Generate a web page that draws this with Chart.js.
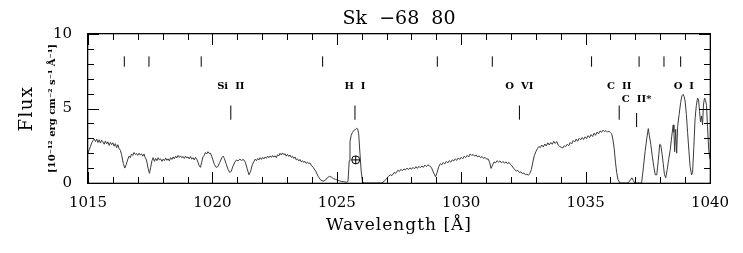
<!DOCTYPE html>
<html>
<head>
<meta charset="utf-8">
<script src="https://cdn.jsdelivr.net/npm/chart.js@4/dist/chart.umd.min.js"></script>
<style>
  html, body { margin: 0; padding: 0; background: #fff; }
  canvas { display: block; }
</style>
</head>
<body>
<canvas id="spec" width="743" height="253"></canvas>
<script>
// spectrum (wavelength in Angstrom, flux in 1e-12 erg/cm2/s/A)
const wave = [
  1015.00, 1015.05, 1015.10, 1015.15, 1015.20, 1015.25, 1015.30, 1015.35, 1015.40, 1015.45,
  1015.50, 1015.55, 1015.60, 1015.65, 1015.70, 1015.75, 1015.80, 1015.85, 1015.90, 1015.95,
  1016.00, 1016.05, 1016.10, 1016.15, 1016.20, 1016.25, 1016.30, 1016.35, 1016.42, 1016.48,
  1016.54, 1016.60, 1016.65, 1016.70, 1016.75, 1016.80, 1016.85, 1016.90, 1016.95, 1017.00,
  1017.05, 1017.10, 1017.15, 1017.20, 1017.25, 1017.30, 1017.35, 1017.42, 1017.47, 1017.52,
  1017.57, 1017.62, 1017.67, 1017.72, 1017.77, 1017.82, 1017.87, 1017.92, 1017.97, 1018.02,
  1018.07, 1018.12, 1018.17, 1018.22, 1018.27, 1018.32, 1018.37, 1018.42, 1018.47, 1018.52,
  1018.57, 1018.62, 1018.67, 1018.72, 1018.77, 1018.82, 1018.87, 1018.92, 1018.97, 1019.02,
  1019.07, 1019.12, 1019.17, 1019.22, 1019.27, 1019.32, 1019.37, 1019.42, 1019.47, 1019.52,
  1019.57, 1019.62, 1019.67, 1019.72, 1019.77, 1019.82, 1019.87, 1019.92, 1019.97, 1020.02,
  1020.08, 1020.15, 1020.22, 1020.30, 1020.38, 1020.43, 1020.48, 1020.55, 1020.62, 1020.70,
  1020.76, 1020.82, 1020.90, 1020.97, 1021.03, 1021.10, 1021.17, 1021.25, 1021.32, 1021.40,
  1021.47, 1021.53, 1021.60, 1021.67, 1021.72, 1021.77, 1021.82, 1021.87, 1021.92, 1021.97,
  1022.02, 1022.07, 1022.12, 1022.17, 1022.22, 1022.27, 1022.32, 1022.37, 1022.42, 1022.47,
  1022.52, 1022.57, 1022.62, 1022.67, 1022.72, 1022.77, 1022.82, 1022.87, 1022.92, 1022.97,
  1023.02, 1023.07, 1023.12, 1023.17, 1023.22, 1023.27, 1023.32, 1023.37, 1023.42, 1023.47,
  1023.52, 1023.57, 1023.62, 1023.67, 1023.72, 1023.77, 1023.82, 1023.87, 1023.92, 1023.97,
  1024.05, 1024.15, 1024.25, 1024.35, 1024.45, 1024.55, 1024.62, 1024.70, 1024.78, 1024.86,
  1024.94, 1025.02, 1025.10, 1025.20, 1025.30, 1025.40, 1025.45, 1025.50, 1025.53, 1025.58,
  1025.63, 1025.70, 1025.76, 1025.80, 1025.84, 1025.88, 1025.93, 1025.98, 1026.03, 1026.10,
  1026.80, 1026.90, 1027.00, 1027.08, 1027.15, 1027.22, 1027.30, 1027.37, 1027.45, 1027.52,
  1027.58, 1027.64, 1027.70, 1027.76, 1027.82, 1027.88, 1027.94, 1028.00, 1028.06, 1028.12,
  1028.18, 1028.24, 1028.30, 1028.36, 1028.42, 1028.48, 1028.54, 1028.60, 1028.66, 1028.72,
  1028.80, 1028.90, 1028.97, 1029.03, 1029.10, 1029.16, 1029.22, 1029.28, 1029.34, 1029.40,
  1029.46, 1029.52, 1029.58, 1029.64, 1029.70, 1029.76, 1029.82, 1029.88, 1029.94, 1030.00,
  1030.06, 1030.12, 1030.18, 1030.24, 1030.30, 1030.36, 1030.42, 1030.48, 1030.54, 1030.60,
  1030.66, 1030.72, 1030.78, 1030.84, 1030.90, 1030.96, 1031.02, 1031.08, 1031.14, 1031.20,
  1031.26, 1031.32, 1031.38, 1031.44, 1031.50, 1031.56, 1031.62, 1031.68, 1031.74, 1031.80,
  1031.86, 1031.92, 1031.98, 1032.04, 1032.10, 1032.16, 1032.22, 1032.28, 1032.34, 1032.40,
  1032.46, 1032.52, 1032.58, 1032.64, 1032.70, 1032.76, 1032.82, 1032.88, 1032.94, 1033.00,
  1033.06, 1033.12, 1033.18, 1033.24, 1033.30, 1033.36, 1033.42, 1033.48, 1033.54, 1033.60,
  1033.66, 1033.72, 1033.78, 1033.84, 1033.90, 1033.96, 1034.02, 1034.08, 1034.14, 1034.20,
  1034.26, 1034.32, 1034.38, 1034.44, 1034.50, 1034.56, 1034.62, 1034.68, 1034.74, 1034.80,
  1034.86, 1034.92, 1034.98, 1035.04, 1035.10, 1035.16, 1035.22, 1035.28, 1035.34, 1035.40,
  1035.46, 1035.52, 1035.58, 1035.64, 1035.70, 1035.76, 1035.82, 1035.88, 1035.94, 1036.00,
  1036.05, 1036.10, 1036.15, 1036.20, 1036.25, 1036.30, 1036.38, 1036.70, 1036.80, 1036.86,
  1036.92, 1036.98, 1037.25, 1037.32, 1037.39, 1037.46, 1037.52, 1037.56, 1037.62, 1037.68,
  1037.74, 1037.80, 1037.86, 1037.92, 1037.98, 1038.02, 1038.07, 1038.12, 1038.17, 1038.22,
  1038.28, 1038.34, 1038.40, 1038.46, 1038.52, 1038.55, 1038.58, 1038.62, 1038.66, 1038.70,
  1038.76, 1038.82, 1038.87, 1038.92, 1038.96, 1039.00, 1039.05, 1039.10, 1039.15, 1039.20,
  1039.26, 1039.30, 1039.35, 1039.40, 1039.45, 1039.50, 1039.54, 1039.58, 1039.62, 1039.66,
  1039.70, 1039.74, 1039.78, 1039.82, 1039.86, 1039.90, 1039.95, 1040.00
]
const flux = [
  2.00, 2.25, 2.45, 2.70, 2.85, 2.95, 2.78, 2.94, 2.72, 2.90,
  2.68, 2.87, 2.76, 2.60, 2.82, 2.63, 2.76, 2.52, 2.72, 2.57,
  2.70, 2.47, 2.64, 2.37, 2.57, 2.30, 2.20, 1.90, 1.30, 1.00,
  1.25, 1.60, 1.80, 1.70, 1.95, 1.85, 2.05, 1.92, 1.98, 1.85,
  2.00, 1.88, 1.95, 1.80, 1.95, 1.70, 1.55, 0.95, 0.65, 1.05,
  1.50, 1.70, 1.45, 1.65, 1.50, 1.70, 1.55, 1.62, 1.45, 1.60,
  1.50, 1.68, 1.52, 1.62, 1.48, 1.70, 1.58, 1.75, 1.62, 1.80,
  1.68, 1.85, 1.72, 1.82, 1.70, 1.78, 1.65, 1.80, 1.68, 1.75,
  1.62, 1.78, 1.60, 1.70, 1.55, 1.72, 1.60, 1.40, 1.15, 1.05,
  1.40, 1.75, 1.85, 2.05, 1.95, 2.10, 1.98, 2.00, 1.80, 1.55,
  1.25, 1.05, 1.10, 1.40, 1.70, 1.80, 1.65, 1.30, 0.95, 0.70,
  0.80, 1.10, 1.40, 1.55, 1.48, 1.60, 1.52, 1.58, 1.40, 0.95,
  0.55, 0.75, 1.20, 1.45, 1.60, 1.50, 1.65, 1.55, 1.70, 1.58,
  1.72, 1.62, 1.75, 1.66, 1.80, 1.70, 1.82, 1.72, 1.85, 1.75,
  1.82, 1.70, 1.90, 1.82, 2.00, 1.88, 2.02, 1.90, 1.96, 1.80,
  1.92, 1.78, 1.88, 1.72, 1.80, 1.65, 1.75, 1.55, 1.62, 1.48,
  1.58, 1.42, 1.50, 1.38, 1.45, 1.32, 1.40, 1.30, 1.35, 1.20,
  1.05, 0.80, 0.45, 0.20, 0.12, 0.20, 0.35, 0.45, 0.40, 0.30,
  0.25, 0.20, 0.15, 0.10, 0.08, 0.05, 0.10, 1.50, 2.80, 3.20,
  3.40, 3.55, 3.60, 3.68, 3.62, 3.30, 2.00, 0.80, 0.10, 0.00,
  0.00, 0.10, 0.30, 0.45, 0.55, 0.50, 0.70, 0.65, 0.85, 0.78,
  0.92, 0.82, 0.95, 0.88, 1.00, 0.90, 1.02, 0.92, 1.05, 0.95,
  1.10, 0.98, 1.12, 1.02, 1.15, 1.05, 1.20, 1.10, 1.22, 1.15,
  1.05, 0.65, 0.42, 0.70, 1.10, 1.30, 1.22, 1.38, 1.28, 1.45,
  1.35, 1.50, 1.40, 1.55, 1.48, 1.62, 1.52, 1.68, 1.58, 1.72,
  1.62, 1.80, 1.70, 1.85, 1.75, 1.95, 1.85, 1.92, 1.80, 1.88,
  1.75, 1.82, 1.70, 1.78, 1.65, 1.72, 1.60, 1.62, 1.40, 0.98,
  1.20, 1.42, 1.35, 1.50, 1.40, 1.48, 1.35, 1.45, 1.32, 1.42,
  1.30, 1.38, 1.25, 1.15, 1.00, 0.88, 0.80, 0.85, 0.70, 0.75,
  0.62, 0.68, 0.55, 0.60, 0.52, 0.65, 0.90, 1.40, 1.85, 2.10,
  2.30, 2.45, 2.38, 2.55, 2.42, 2.62, 2.48, 2.70, 2.55, 2.72,
  2.60, 2.80, 2.65, 2.78, 2.55, 2.45, 2.40, 2.35, 2.50, 2.45,
  2.60, 2.50, 2.72, 2.62, 2.85, 2.75, 2.95, 2.80, 3.00, 2.90,
  3.05, 2.92, 3.10, 2.98, 3.18, 3.05, 3.25, 3.12, 3.35, 3.20,
  3.42, 3.30, 3.50, 3.40, 3.55, 3.45, 3.52, 3.42, 3.48, 3.38,
  3.30, 2.90, 2.30, 1.40, 0.70, 0.25, 0.00, 0.00, 0.20, 0.35,
  0.15, 0.00, 0.00, 1.00, 2.10, 3.00, 3.65, 3.20, 2.60, 1.80,
  1.10, 0.55, 0.55, 1.50, 2.60, 2.55, 2.00, 1.30, 0.55, 0.35,
  0.90, 1.60, 2.20, 3.10, 3.90, 3.40, 2.10, 3.60, 2.00, 3.80,
  4.60, 5.40, 5.85, 5.95, 5.80, 5.50, 4.60, 3.40, 2.20, 1.10,
  0.55, 0.70, 2.40, 4.30, 5.20, 5.70, 5.60, 4.80, 4.10, 4.50,
  3.90, 5.30, 5.70, 5.55, 5.20, 3.80, 2.20, 1.60
]

// line identification marks
const upperMarks = [1016.46, 1017.45, 1019.55, 1024.43, 1029.04, 1031.25, 1035.24, 1037.15, 1038.15, 1038.82]
const lineNames = ['Si  II', 'H  I', 'O  VI', 'C  II', 'C  II*', 'O  I']
const lineWaves = [1020.74, 1025.73, 1032.34, 1036.35, 1037.05, 1038.95]
const lineRows = [0, 0, 0, 0, 1, 0]
const earthWave = [1025.76]
const earthFlux = [1.55]

const xTicks = [1015, 1020, 1025, 1030, 1035, 1040]
const yTicks = [0, 5, 10]

const SERIF = '"DejaVu Serif", serif'

function segments(xs, lo, hi) {
  const pts = []
  xs.forEach(x => { pts.push({ x, y: lo }, { x, y: hi }, { x: null, y: null }) })
  return pts
}

const lowerPts = []
lineWaves.forEach((w, i) => {
  if (lineNames[i] === 'O  I') return
  const lo = lineRows[i] ? 3.75 : 4.25
  const hi = lineRows[i] ? 4.7 : 5.2
  lowerPts.push({ x: w, y: lo }, { x: w, y: hi }, { x: null, y: null })
})

const frame = {
  id: 'frame',
  afterDraw(chart) {
    const ctx = chart.ctx
    const a = chart.chartArea
    const x = chart.scales.x
    const y = chart.scales.y
    ctx.save()
    ctx.fillStyle = '#000'
    // box
    ctx.fillRect(a.left - 1, a.top - 1, a.right - a.left + 2, 1.3)
    ctx.fillRect(a.left - 1, a.bottom - 0.3, a.right - a.left + 2, 1.3)
    ctx.fillRect(a.left - 1, a.top - 1, 1.3, a.bottom - a.top + 2)
    ctx.fillRect(a.right - 0.3, a.top - 1, 1.3, a.bottom - a.top + 2)
    // inward ticks, every 1 A and every 1 flux unit
    for (let v = 1015; v <= 1040; v++) {
      const px = Math.round(x.getPixelForValue(v))
      const len = v % 5 === 0 ? 11 : 6
      ctx.fillRect(px, a.bottom - len, 1, len)
      ctx.fillRect(px, a.top, 1, len)
    }
    for (let v = 0; v <= 10; v++) {
      const py = Math.round(y.getPixelForValue(v))
      const len = v % 5 === 0 ? 11 : 6
      ctx.fillRect(a.left, py, len, 1)
      ctx.fillRect(a.right - len, py, len, 1)
    }

    ctx.textAlign = 'center'
    ctx.textBaseline = 'middle'
    ctx.font = '19px ' + SERIF
    ctx.fillText('Sk  \u221268  80', (a.left + a.right) / 2, 19)

    ctx.font = '17px ' + SERIF
    ctx.letterSpacing = '1px'
    ctx.fillText('Wavelength [\u00c5]', (a.left + a.right) / 2, 226)

    ctx.letterSpacing = '0px'
    ctx.font = 'bold 10px ' + SERIF
    lineNames.forEach((n, i) => {
      const px = x.getPixelForValue(lineWaves[i])
      const py = lineRows[i] ? 99 : 86
      ctx.fillText(n, px, py)
    })

    ctx.save()
    ctx.translate(27, (a.top + a.bottom) / 2)
    ctx.rotate(-Math.PI / 2)
    ctx.font = '18px ' + SERIF
    ctx.letterSpacing = '1.5px'
    ctx.fillText('Flux', 0, 0)
    ctx.restore()

    ctx.save()
    ctx.translate(52, (a.top + a.bottom) / 2)
    ctx.rotate(-Math.PI / 2)
    ctx.font = 'bold 10px ' + SERIF
    ctx.fillText('[10\u207b\u00b9\u00b2 erg cm\u207b\u00b2 s\u207b\u00b9 \u00c5\u207b\u00b9]', 0, 0)
    ctx.restore()
    ctx.restore()
  }
}

new Chart(document.getElementById('spec'), {
  type: 'line',
  data: {
    datasets: [
      {
        label: 'spectrum',
        data: wave.map((w, i) => ({ x: w, y: flux[i] })),
        borderColor: '#3a3a3a',
        borderWidth: 1,
        pointRadius: 0,
        tension: 0,
      },
      {
        label: 'upper marks',
        data: segments(upperMarks, 7.8, 8.5),
        borderColor: '#000',
        borderWidth: 1,
        pointRadius: 0,
        spanGaps: false,
      },
      {
        label: 'line marks',
        data: lowerPts,
        borderColor: '#000',
        borderWidth: 1,
        pointRadius: 0,
        spanGaps: false,
      },
      {
        label: 'earth',
        data: earthWave.map((w, i) => ({ x: w, y: earthFlux[i] })),
        showLine: false,
        pointStyle: 'circle',
        pointRadius: 4,
        pointBorderColor: '#000',
        pointBackgroundColor: 'rgba(0,0,0,0)',
        pointBorderWidth: 1,
      },
      {
        label: 'earth cross',
        data: earthWave.map((w, i) => ({ x: w, y: earthFlux[i] })),
        showLine: false,
        pointStyle: 'cross',
        pointRadius: 4,
        pointBorderColor: '#000',
        pointBorderWidth: 1,
      },
    ],
  },
  options: {
    responsive: false,
    animation: false,
    devicePixelRatio: 1,
    layout: { padding: { top: 34, right: 33, left: 0, bottom: 0 } },
    plugins: { legend: { display: false }, tooltip: { enabled: false }, title: { display: false } },
    scales: {
      x: {
        type: 'linear',
        min: 1015,
        max: 1040,
        afterFit: s => { s.height = 70 },
        afterBuildTicks: s => { s.ticks = xTicks.map(v => ({ value: v })) },
        grid: { display: false },
        border: { display: false },
        ticks: { color: '#000', padding: 3, font: { family: SERIF, size: 15 }, maxRotation: 0, callback: v => String(v) },
      },
      y: {
        min: 0,
        max: 10,
        afterFit: s => { s.width = 88 },
        afterBuildTicks: s => { s.ticks = yTicks.map(v => ({ value: v })) },
        grid: { display: false },
        border: { display: false },
        ticks: { color: '#000', padding: 8, font: { family: SERIF, size: 15 }, callback: v => String(v) },
      },
    },
  },
  plugins: [frame],
})
</script>
</body>
</html>
